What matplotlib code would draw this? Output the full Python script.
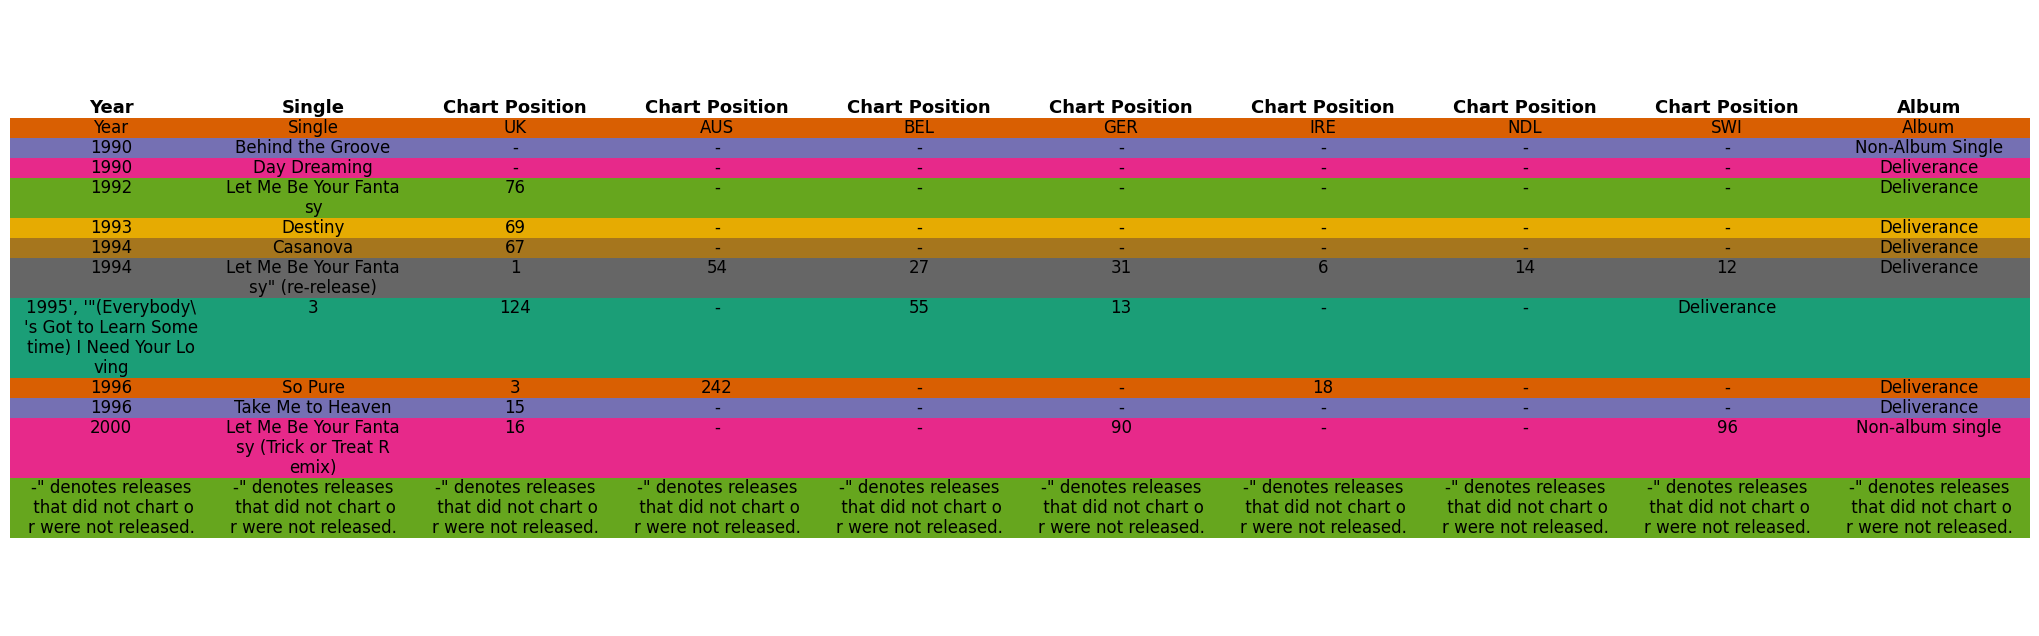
"""Table of chart positions drawn as coloured rows"""
import matplotlib.pyplot as plt
from matplotlib.patches import Rectangle

headers = ["Year", "Single"] + ["Chart Position"] * 7 + ["Album"]
note = '-" denotes releases\n that did not chart o\nr were not released.'
rows = [
    ["Year", "Single", "UK", "AUS", "BEL", "GER", "IRE", "NDL", "SWI", "Album"],
    ["1990", "Behind the Groove", "-", "-", "-", "-", "-", "-", "-", "Non-Album Single"],
    ["1990", "Day Dreaming", "-", "-", "-", "-", "-", "-", "-", "Deliverance"],
    ["1992", "Let Me Be Your Fanta\nsy", "76", "-", "-", "-", "-", "-", "-", "Deliverance"],
    ["1993", "Destiny", "69", "-", "-", "-", "-", "-", "-", "Deliverance"],
    ["1994", "Casanova", "67", "-", "-", "-", "-", "-", "-", "Deliverance"],
    ["1994", "Let Me Be Your Fanta\nsy\" (re-release)", "1", "54", "27", "31", "6", "14", "12", "Deliverance"],
    ["1995', '\"(Everybody\\\n's Got to Learn Some\ntime) I Need Your Lo\nving", "3", "124", "-", "55", "13", "-", "-", "Deliverance", ""],
    ["1996", "So Pure", "3", "242", "-", "-", "18", "-", "-", "Deliverance"],
    ["1996", "Take Me to Heaven", "15", "-", "-", "-", "-", "-", "-", "Deliverance"],
    ["2000", "Let Me Be Your Fanta\nsy (Trick or Treat R\nemix)", "16", "-", "-", "90", "-", "-", "96", "Non-album single"],
    [note] * 10,
]
row_colors = ["#d95f02", "#7570b3", "#e7298a", "#66a61e", "#e6ab02", "#a6761d",
              "#666666", "#1b9e77", "#d95f02", "#7570b3", "#e7298a", "#66a61e"]

fig = plt.figure(figsize=(20.39, 6.36), dpi=100)
ax = fig.add_axes([0, 0, 1, 1])
ax.set_xlim(0, 2039)
ax.set_ylim(636, 0)
ax.axis("off")

left, right, top, unit = 10, 2030, 118, 20
col_w = (right - left) / len(headers)

for j, h in enumerate(headers):
    ax.text(left + (j + 0.5) * col_w, top - 10, h, ha="center", va="center",
            fontsize=13, fontweight="bold")

y = top
for row, color in zip(rows, row_colors):
    n_lines = max(c.count("\n") + 1 for c in row)
    h = n_lines * unit
    ax.add_patch(Rectangle((left, y), right - left, h, color=color, lw=0))
    for j, cell in enumerate(row):
        ax.text(left + (j + 0.5) * col_w, y + 1, cell, ha="center", va="top",
                fontsize=12, linespacing=1.15)
    y += h

fig.savefig("out.png", dpi=100)
